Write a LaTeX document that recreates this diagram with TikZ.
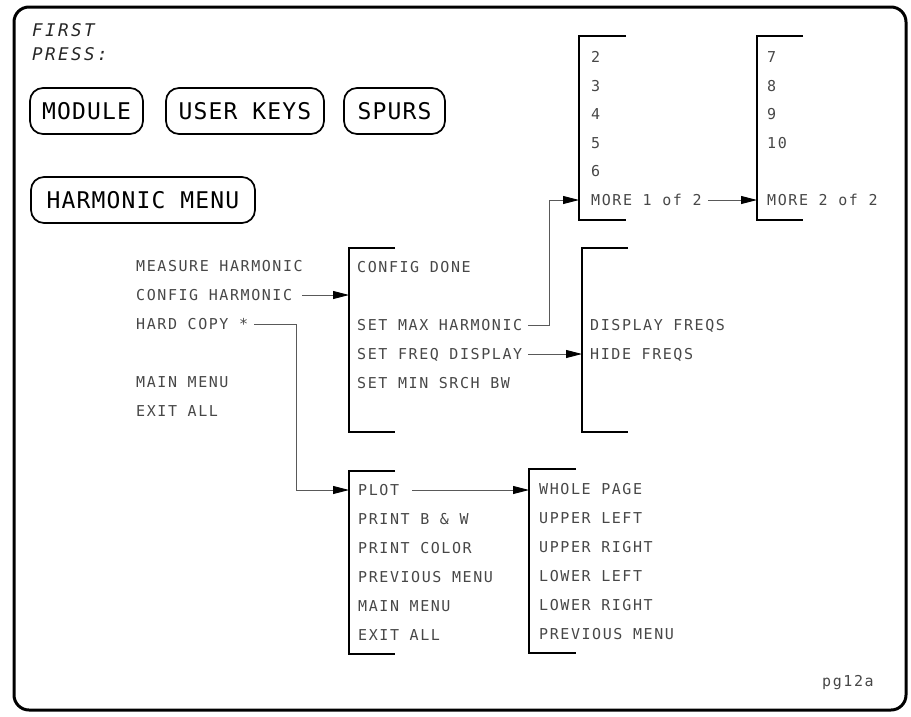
\documentclass[tikz,border=0pt]{standalone}
\usepackage{fontspec}
\usetikzlibrary{arrows.meta,calc}
\newfontfamily\menufont[LetterSpace=10.5]{DejaVu Sans Mono}
\newfontfamily\btnfont[LetterSpace=5]{DejaVu Sans Mono}
\newfontfamily\pressfont[LetterSpace=14]{DejaVu Sans Mono}
\begin{document}
\begin{tikzpicture}[x=1pt,y=-1pt,
  menu/.style={anchor=west, inner sep=0pt, text height=10.9pt, text depth=0pt,
    font=\menufont\fontsize{15}{15}\selectfont, text=black!72},
  btn/.style={draw, line width=1.7pt, rounded corners=13pt,
    font=\btnfont\fontsize{23}{23}\selectfont, text height=16.8pt, text depth=0pt,
    inner sep=0pt, minimum height=46pt},
  press/.style={anchor=base west, inner sep=0pt,
    font=\pressfont\itshape\fontsize{17.5}{17.5}\selectfont, text=black!85},
  brk/.style={line width=1.8pt},
  conn/.style={draw=black!65, line width=0.9pt, shorten <=6pt},
  arr/.style={conn, -{Triangle[length=16pt,width=8pt,color=black]}}]
\useasboundingbox (0,0) rectangle (911,716);
\draw[line width=3pt, rounded corners=15pt] (14,7) rectangle (906,710);

% first press
\node[press] (first) at (32,36.5) {FIRST};
\node[press] (press) at (32,60) {PRESS:};

% buttons
\node[btn, minimum width=113pt] (module) at (86.5,111) {MODULE};
\node[btn, minimum width=158pt] (userkeys) at (245,111) {USER KEYS};
\node[btn, minimum width=101pt] (spurs) at (394.5,111) {SPURS};
\node[btn, minimum width=224pt] (harm) at (143,200) {HARMONIC MENU};

% left menu
\node[menu] (meas) at (136,266) {MEASURE HARMONIC};
\node[menu] (cfgh) at (136,295) {CONFIG HARMONIC};
\node[menu] (hard) at (136,324) {HARD COPY *};
\node[menu] (mainm) at (136,382) {MAIN MENU};
\node[menu] (exita) at (136,411) {EXIT ALL};

% config menu
\draw[brk] (395,248) -- (349,248) -- (349,432) -- (395,432);
\coordinate (brCfg) at (349,340);
\node[menu] (cdone) at (357,267) {CONFIG DONE};
\node[menu] (setmax) at (357,325) {SET MAX HARMONIC};
\node[menu] (setfreq) at (357,354) {SET FREQ DISPLAY};
\node[menu] (setmin) at (357,383) {SET MIN SRCH BW};

% display menu
\draw[brk] (628,248) -- (582,248) -- (582,432) -- (628,432);
\coordinate (brDisp) at (582,340);
\node[menu] (dispf) at (590,325) {DISPLAY FREQS};
\node[menu] (hidef) at (590,354) {HIDE FREQS};

% harmonic number menu 1
\draw[brk] (626,36) -- (579,36) -- (579,220) -- (626,220);
\coordinate (brA) at (579,128);
\node[menu] (h2) at (591,57) {2};
\node[menu] (h3) at (591,85.6) {3};
\node[menu] (h4) at (591,114.2) {4};
\node[menu] (h5) at (591,142.8) {5};
\node[menu] (h6) at (591,171.4) {6};
\node[menu] (more1) at (591,200) {MORE 1 of 2};

% harmonic number menu 2
\draw[brk] (803,36) -- (757,36) -- (757,220) -- (803,220);
\coordinate (brB) at (757,128);
\node[menu] (h7) at (767,57) {7};
\node[menu] (h8) at (767,85.6) {8};
\node[menu] (h9) at (767,114.2) {9};
\node[menu] (h10) at (767,142.8) {10};
\node[menu] (more2) at (767,200) {MORE 2 of 2};

% hard copy menu
\draw[brk] (395,471) -- (349,471) -- (349,654) -- (395,654);
\coordinate (brC) at (349,560);
\node[menu] (plot) at (358,490) {PLOT};
\node[menu] (pbw) at (358,519) {PRINT B \& W};
\node[menu] (pcol) at (358,548) {PRINT COLOR};
\node[menu] (prev1) at (358,577) {PREVIOUS MENU};
\node[menu] (main2) at (358,606) {MAIN MENU};
\node[menu] (exit2) at (358,635) {EXIT ALL};

% plot menu
\draw[brk] (576,469) -- (529,469) -- (529,653) -- (576,653);
\coordinate (brD) at (529,560);
\node[menu] (whole) at (539,489) {WHOLE PAGE};
\node[menu] (ul) at (539,518) {UPPER LEFT};
\node[menu] (ur) at (539,547) {UPPER RIGHT};
\node[menu] (ll) at (539,576) {LOWER LEFT};
\node[menu] (lr) at (539,605) {LOWER RIGHT};
\node[menu] (prev2) at (539,634) {PREVIOUS MENU};

\node[anchor=base west, inner sep=0pt, font=\menufont\fontsize{15}{15}\selectfont, text=black!72] (pg) at (822,686) {pg12a};

% junction points
\coordinate (jmax) at (549,0);
\coordinate (jhard) at (296,0);

% connectors
\draw[arr, shorten <=10pt] (cfgh.east) -- (cfgh.east -| brCfg);
\draw[arr] (setmax.east) -- (setmax.east -| jmax) |- (brA |- more1.west);
\draw[arr] (setfreq.east) -- (setfreq.east -| brDisp);
\draw[arr] (more1.east) -- (more1.east -| brB);
\draw[arr] (hard.east) -- (hard.east -| jhard) |- (brC |- plot.west);
\draw[arr, shorten <=13pt] (plot.east) -- (plot.east -| brD);
\end{tikzpicture}
\end{document}
